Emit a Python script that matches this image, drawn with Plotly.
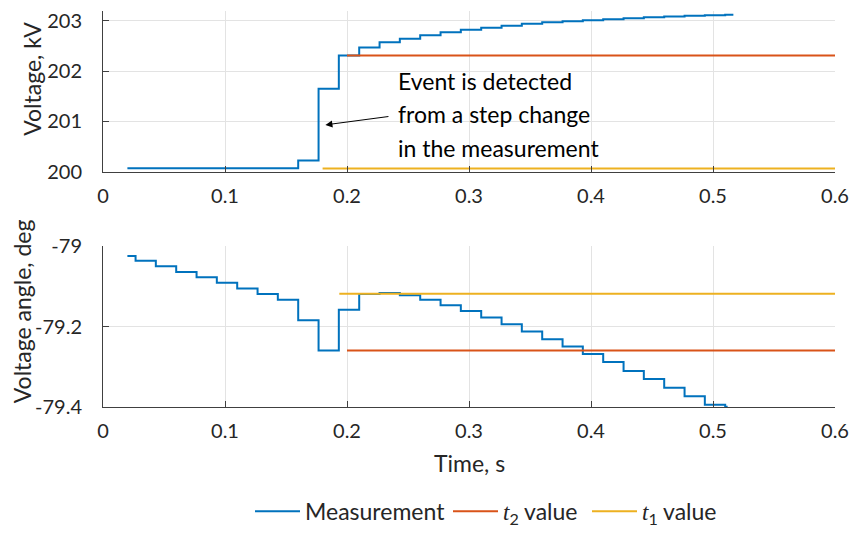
import plotly.graph_objects as go

# ---------------- data ----------------
# Voltage magnitude measurement (step times, s) and values (kV)
volt_t = [0.020, 0.160, 0.1767, 0.1933, 0.210, 0.2267, 0.2433, 0.260, 0.2767, 0.2933,
          0.310, 0.3267, 0.3433, 0.360, 0.3767, 0.3933, 0.410, 0.4267, 0.4433, 0.460,
          0.4767, 0.4933, 0.510, 0.5167]
volt_v = [200.07, 200.22, 201.65, 202.31, 202.47, 202.57, 202.64, 202.71, 202.77, 202.82,
          202.86, 202.90, 202.94, 202.97, 202.99, 203.01, 203.03, 203.05, 203.07, 203.085,
          203.10, 203.11, 203.12, 203.12]

# t2 / t1 values for voltage
volt_t2_t = [0.200, 0.600]
volt_t2_v = [202.31, 202.31]
volt_t1_t = [0.180, 0.600]
volt_t1_v = [200.065, 200.065]

# Voltage angle measurement (step times, s) and values (deg)
ang_t = [0.020, 0.0267, 0.0433, 0.060, 0.0767, 0.0933, 0.110, 0.1267, 0.1433, 0.160,
         0.1767, 0.1933, 0.210, 0.2267, 0.2433, 0.260, 0.2767, 0.2933, 0.310, 0.3267,
         0.3433, 0.360, 0.3767, 0.3933, 0.410, 0.4267, 0.4433, 0.460, 0.4767, 0.4933,
         0.510, 0.512]
ang_v = [-79.024, -79.036, -79.050, -79.064, -79.077, -79.091, -79.105, -79.119, -79.133, -79.184,
         -79.259, -79.158, -79.119, -79.116, -79.122, -79.133, -79.147, -79.161, -79.177, -79.194,
         -79.212, -79.231, -79.249, -79.268, -79.288, -79.310, -79.330, -79.352, -79.373, -79.394,
         -79.399, -79.399]

ang_t2_t = [0.200, 0.600]
ang_t2_v = [-79.259, -79.259]
ang_t1_t = [0.1937, 0.600]
ang_t1_v = [-79.118, -79.118]

x_ticks = [0, 0.1, 0.2, 0.3, 0.4, 0.5, 0.6]
x_labels = ["0", "0.1", "0.2", "0.3", "0.4", "0.5", "0.6"]
volt_ticks = [200, 201, 202, 203]
volt_labels = ["200", "201", "202", "203"]
ang_ticks = [-79.4, -79.2, -79.0]
ang_labels = ["-79.4", "-79.2", "-79"]

SERIF_T = "<span style=\"font-family:'Liberation Serif'\"><i>t</i></span>"
names = ["Measurement", SERIF_T + "<sub>2</sub> value", SERIF_T + "<sub>1</sub> value"]
annot_lines = ["Event is detected", "from a step change", "in the measurement"]

# ---------------- style ----------------
BLUE = "#0072BD"
RED = "#D95319"
YEL = "#EDB120"
TXT = "#262626"
FONT = "Lato"
FS = 23      # titles / annotation / legend
TFS = 20     # tick labels
W, H = 852, 533

fig = go.Figure()

fig.add_trace(go.Scatter(x=volt_t, y=volt_v, mode="lines", line=dict(color=BLUE, width=2, shape="hv"),
                         name=names[0], xaxis="x", yaxis="y", legend="legend"))
fig.add_trace(go.Scatter(x=volt_t2_t, y=volt_t2_v, mode="lines", line=dict(color=RED, width=2),
                         name=names[1], xaxis="x", yaxis="y", legend="legend2"))
fig.add_trace(go.Scatter(x=volt_t1_t, y=volt_t1_v, mode="lines", line=dict(color=YEL, width=2),
                         name=names[2], xaxis="x", yaxis="y", legend="legend3"))

fig.add_trace(go.Scatter(x=ang_t, y=ang_v, mode="lines", line=dict(color=BLUE, width=2, shape="hv"),
                         showlegend=False, xaxis="x2", yaxis="y2"))
fig.add_trace(go.Scatter(x=ang_t2_t, y=ang_t2_v, mode="lines", line=dict(color=RED, width=2),
                         showlegend=False, xaxis="x2", yaxis="y2"))
fig.add_trace(go.Scatter(x=ang_t1_t, y=ang_t1_v, mode="lines", line=dict(color=YEL, width=2),
                         showlegend=False, xaxis="x2", yaxis="y2"))

xdom = [103 / W, 835 / W]
top_dom = [1 - 174.3 / H, 1 - 10.8 / H]
bot_dom = [1 - 413.3 / H, 1 - 250.0 / H]

axis_common = dict(showline=True, linecolor="#404040", linewidth=1, showgrid=True,
                   gridcolor="#E3E3E3", gridwidth=1, zeroline=False, ticks="inside",
                   ticklen=6, tickcolor="#404040", tickfont=dict(family=FONT, size=TFS, color=TXT),
                   mirror=False, automargin=False)

def leg(xpx):
    return dict(orientation="h", x=xpx / W, xanchor="left", y=1 - 519 / H, yanchor="middle",
                font=dict(family=FONT, size=FS, color=TXT), bgcolor="rgba(0,0,0,0)",
                itemwidth=45, tracegroupgap=0)

fig.update_layout(
    width=W, height=H,
    margin=dict(l=0, r=0, t=0, b=0, pad=0),
    paper_bgcolor="white", plot_bgcolor="white",
    font=dict(family=FONT, size=FS, color=TXT),
    xaxis=dict(domain=xdom, anchor="y", range=[0, 0.6], tickvals=x_ticks, ticktext=x_labels,
               ticklabelstandoff=6, **axis_common),
    yaxis=dict(domain=top_dom, anchor="x", range=[200, 203.2], tickvals=volt_ticks,
               ticktext=volt_labels, ticklabelstandoff=16, **axis_common),
    xaxis2=dict(domain=xdom, anchor="y2", range=[0, 0.6], tickvals=x_ticks, ticktext=x_labels,
                ticklabelstandoff=6, **axis_common),
    yaxis2=dict(domain=bot_dom, anchor="x2", range=[-79.4, -79.0], tickvals=ang_ticks,
                ticktext=ang_labels, ticklabelstandoff=16, **axis_common),
    legend=leg(250),
    legend2=leg(448),
    legend3=leg(587),
    showlegend=True,
)

annotations = []
# axis titles
annotations.append(dict(text="Voltage, kV", x=32 / W, y=1 - 80 / H, xref="paper", yref="paper",
                        textangle=-90, showarrow=False, font=dict(family=FONT, size=FS, color=TXT),
                        xanchor="center", yanchor="middle"))
annotations.append(dict(text="Voltage angle, deg", x=22 / W, y=1 - 316 / H, xref="paper", yref="paper",
                        textangle=-90, showarrow=False, font=dict(family=FONT, size=FS, color=TXT),
                        xanchor="center", yanchor="middle"))
annotations.append(dict(text="Time, s", x=469 / W, y=1 - 470 / H, xref="paper", yref="paper",
                        showarrow=False, font=dict(family=FONT, size=FS, color=TXT),
                        xanchor="center", yanchor="middle"))
# event text
for line, yv in zip(annot_lines, [201.80, 201.14, 200.48]):
    annotations.append(dict(text=line, x=0.2405, y=yv, xref="x", yref="y", showarrow=False,
                            xanchor="left", yanchor="middle",
                            font=dict(family=FONT, size=FS, color="black")))
# arrow
annotations.append(dict(x=0.1823, y=200.93, ax=0.2352, ay=201.10, xref="x", yref="y",
                        axref="x", ayref="y", text="", showarrow=True, arrowhead=2,
                        arrowsize=1.4, arrowwidth=1, arrowcolor="black"))
fig.update_layout(annotations=annotations)

fig.write_html("out.html")
